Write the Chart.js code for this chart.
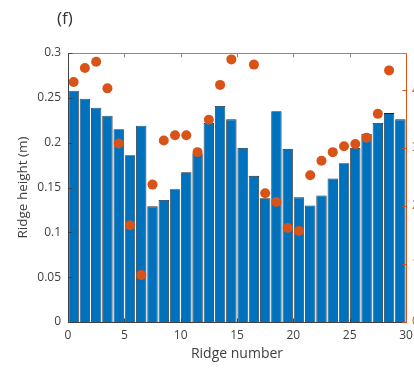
<!DOCTYPE html>
<html>
<head>
<meta charset="utf-8">
<script src="https://cdn.jsdelivr.net/npm/chart.js@4.4.1/dist/chart.umd.min.js"></script>
<style>
  html, body { margin: 0; padding: 0; background: #fff; overflow: hidden; }
  #wrap { position: relative; width: 414px; height: 373px; overflow: hidden; }
  #panel { position: absolute; left: 57px; top: 6px; font: 17px "Open Sans", sans-serif; color: #333; }
  #chart { position: absolute; left: 0; top: 0; }
</style>
</head>
<body>
<div id="wrap">
  <canvas id="chart" width="440" height="373"></canvas>
  <div id="panel">(f)</div>
</div>
<script>
// ======
// data
// ======
var ridgeNumber = [0.5, 1.5, 2.5, 3.5, 4.5, 5.5, 6.5, 7.5, 8.5, 9.5,
                   10.5, 11.5, 12.5, 13.5, 14.5, 15.5, 16.5, 17.5, 18.5, 19.5,
                   20.5, 21.5, 22.5, 23.5, 24.5, 25.5, 26.5, 27.5, 28.5, 29.5];
var ridgeHeight = [0.258, 0.249, 0.239, 0.230, 0.215, 0.186, 0.219, 0.129, 0.136, 0.148,
                   0.167, 0.188, 0.222, 0.241, 0.226, 0.194, 0.163, 0.138, 0.235, 0.193,
                   0.139, 0.130, 0.141, 0.160, 0.177, 0.194, 0.210, 0.222, 0.233, 0.226];
// right (orange) axis, its labels are cut off by the frame
var rightValues = [4.14, 4.38, 4.49, 4.03, 3.08, 1.67, 0.81, 2.37, 3.13, 3.22,
                   3.22, 2.93, 3.49, 4.09, 4.53, null, 4.44, 2.22, 2.07, 1.62,
                   1.57, 2.53, 2.78, 2.93, 3.03, 3.07, 3.18, 3.59, 4.34, null];
var xTicks = [0, 5, 10, 15, 20, 25, 30];
var yTicks = [0, 0.05, 0.1, 0.15, 0.2, 0.25, 0.3];
var rightTicks = [0, 1, 2, 3, 4];

var blue = '#0072BD';
var orange = '#D95319';
var axisGrey = '#404040';

// draw the box and the inward ticks the way matlab does
var framePlugin = {
    id: 'matlabFrame',
    afterDraw: function(chart) {
        var ctx = chart.ctx;
        var a = chart.chartArea;
        var x = chart.scales.x, y = chart.scales.y, y2 = chart.scales.y2;
        var L = Math.round(a.left) + 0.5, R = Math.round(a.right) + 0.5;
        var T = Math.round(a.top) + 0.5, B = Math.round(a.bottom) + 0.5;
        var tl = 4;
        ctx.save();
        ctx.lineWidth = 1;

        ctx.strokeStyle = '#8a8a8a';
        ctx.beginPath();
        ctx.moveTo(L, T); ctx.lineTo(R, T);
        xTicks.forEach(function(v) {
            var px = Math.round(x.getPixelForValue(v)) + 0.5;
            ctx.moveTo(px, T); ctx.lineTo(px, T + tl);
        });
        ctx.stroke();

        ctx.strokeStyle = axisGrey;
        ctx.beginPath();
        ctx.moveTo(L, T); ctx.lineTo(L, B); ctx.lineTo(R, B);
        yTicks.forEach(function(v) {
            var py = Math.round(y.getPixelForValue(v)) + 0.5;
            ctx.moveTo(L, py); ctx.lineTo(L + tl, py);
        });
        xTicks.forEach(function(v) {
            var px = Math.round(x.getPixelForValue(v)) + 0.5;
            ctx.moveTo(px, B); ctx.lineTo(px, B - tl);
        });
        ctx.stroke();

        ctx.strokeStyle = orange;
        ctx.beginPath();
        ctx.moveTo(R, T); ctx.lineTo(R, B);
        rightTicks.forEach(function(v) {
            var py = Math.round(y2.getPixelForValue(v)) + 0.5;
            ctx.moveTo(R, py); ctx.lineTo(R - tl, py);
        });
        ctx.stroke();
        ctx.restore();
    }
};
Chart.register(framePlugin);

var barPoints = ridgeNumber.map(function(n, i) { return {x: n, y: ridgeHeight[i]}; });
var dotPoints = ridgeNumber.map(function(n, i) { return {x: n, y: rightValues[i]}; });

var font = {family: '"Open Sans", sans-serif', size: 12};
var noGrid = { display: false, drawTicks: false };

new Chart(document.getElementById('chart'), {
    type: 'bar',
    data: {
        datasets: [{
            type: 'scatter',
            label: 'right',
            data: dotPoints,
            yAxisID: 'y2',
            backgroundColor: orange,
            borderColor: orange,
            pointRadius: 5,
            pointBorderWidth: 0,
            order: 0
        }, {
            label: 'Ridge height',
            data: barPoints,
            yAxisID: 'y',
            backgroundColor: blue,
            borderColor: '#1c2630',
            borderWidth: 0.8,
            barPercentage: 0.92,
            categoryPercentage: 1,
            order: 1
        }]
    },
    options: {
        responsive: false,
        animation: false,
        layout: { padding: { top: 53, left: 0, right: 0, bottom: 0 } },
        plugins: { legend: { display: false }, tooltip: { enabled: false } },
        scales: {
            x: {
                type: 'linear',
                offset: false,
                min: 0,
                max: 30,
                grid: noGrid,
                border: { display: false },
                afterBuildTicks: function(s) { s.ticks = xTicks.map(function(v) { return {value: v}; }); },
                afterFit: function(s) { s.height = 51; },
                ticks: { color: axisGrey, font: font, padding: 6, maxRotation: 0,
                         callback: function(v) { return String(v); } },
                title: { display: true, text: 'Ridge number', color: axisGrey,
                         font: {family: '"Open Sans", sans-serif', size: 14}, padding: {top: 0, bottom: 11} }
            },
            y: {
                position: 'left',
                min: 0,
                max: 0.3,
                grid: noGrid,
                border: { display: false },
                afterBuildTicks: function(s) { s.ticks = yTicks.map(function(v) { return {value: v}; }); },
                afterFit: function(s) { s.width = 68; },
                ticks: { color: axisGrey, font: font, padding: 7,
                         callback: function(v) { return String(v); } },
                title: { display: true, text: 'Ridge height (m)', color: axisGrey,
                         font: {family: '"Open Sans", sans-serif', size: 13.5}, padding: {top: 15, bottom: 0} }
            },
            y2: {
                position: 'right',
                min: 0,
                max: 4.64,
                grid: noGrid,
                border: { display: false },
                afterBuildTicks: function(s) { s.ticks = rightTicks.map(function(v) { return {value: v}; }); },
                afterFit: function(s) { s.width = 34; },
                ticks: { color: orange, font: font, padding: 6,
                         callback: function(v) { return String(v); } }
            }
        }
    }
});
</script>
</body>
</html>
